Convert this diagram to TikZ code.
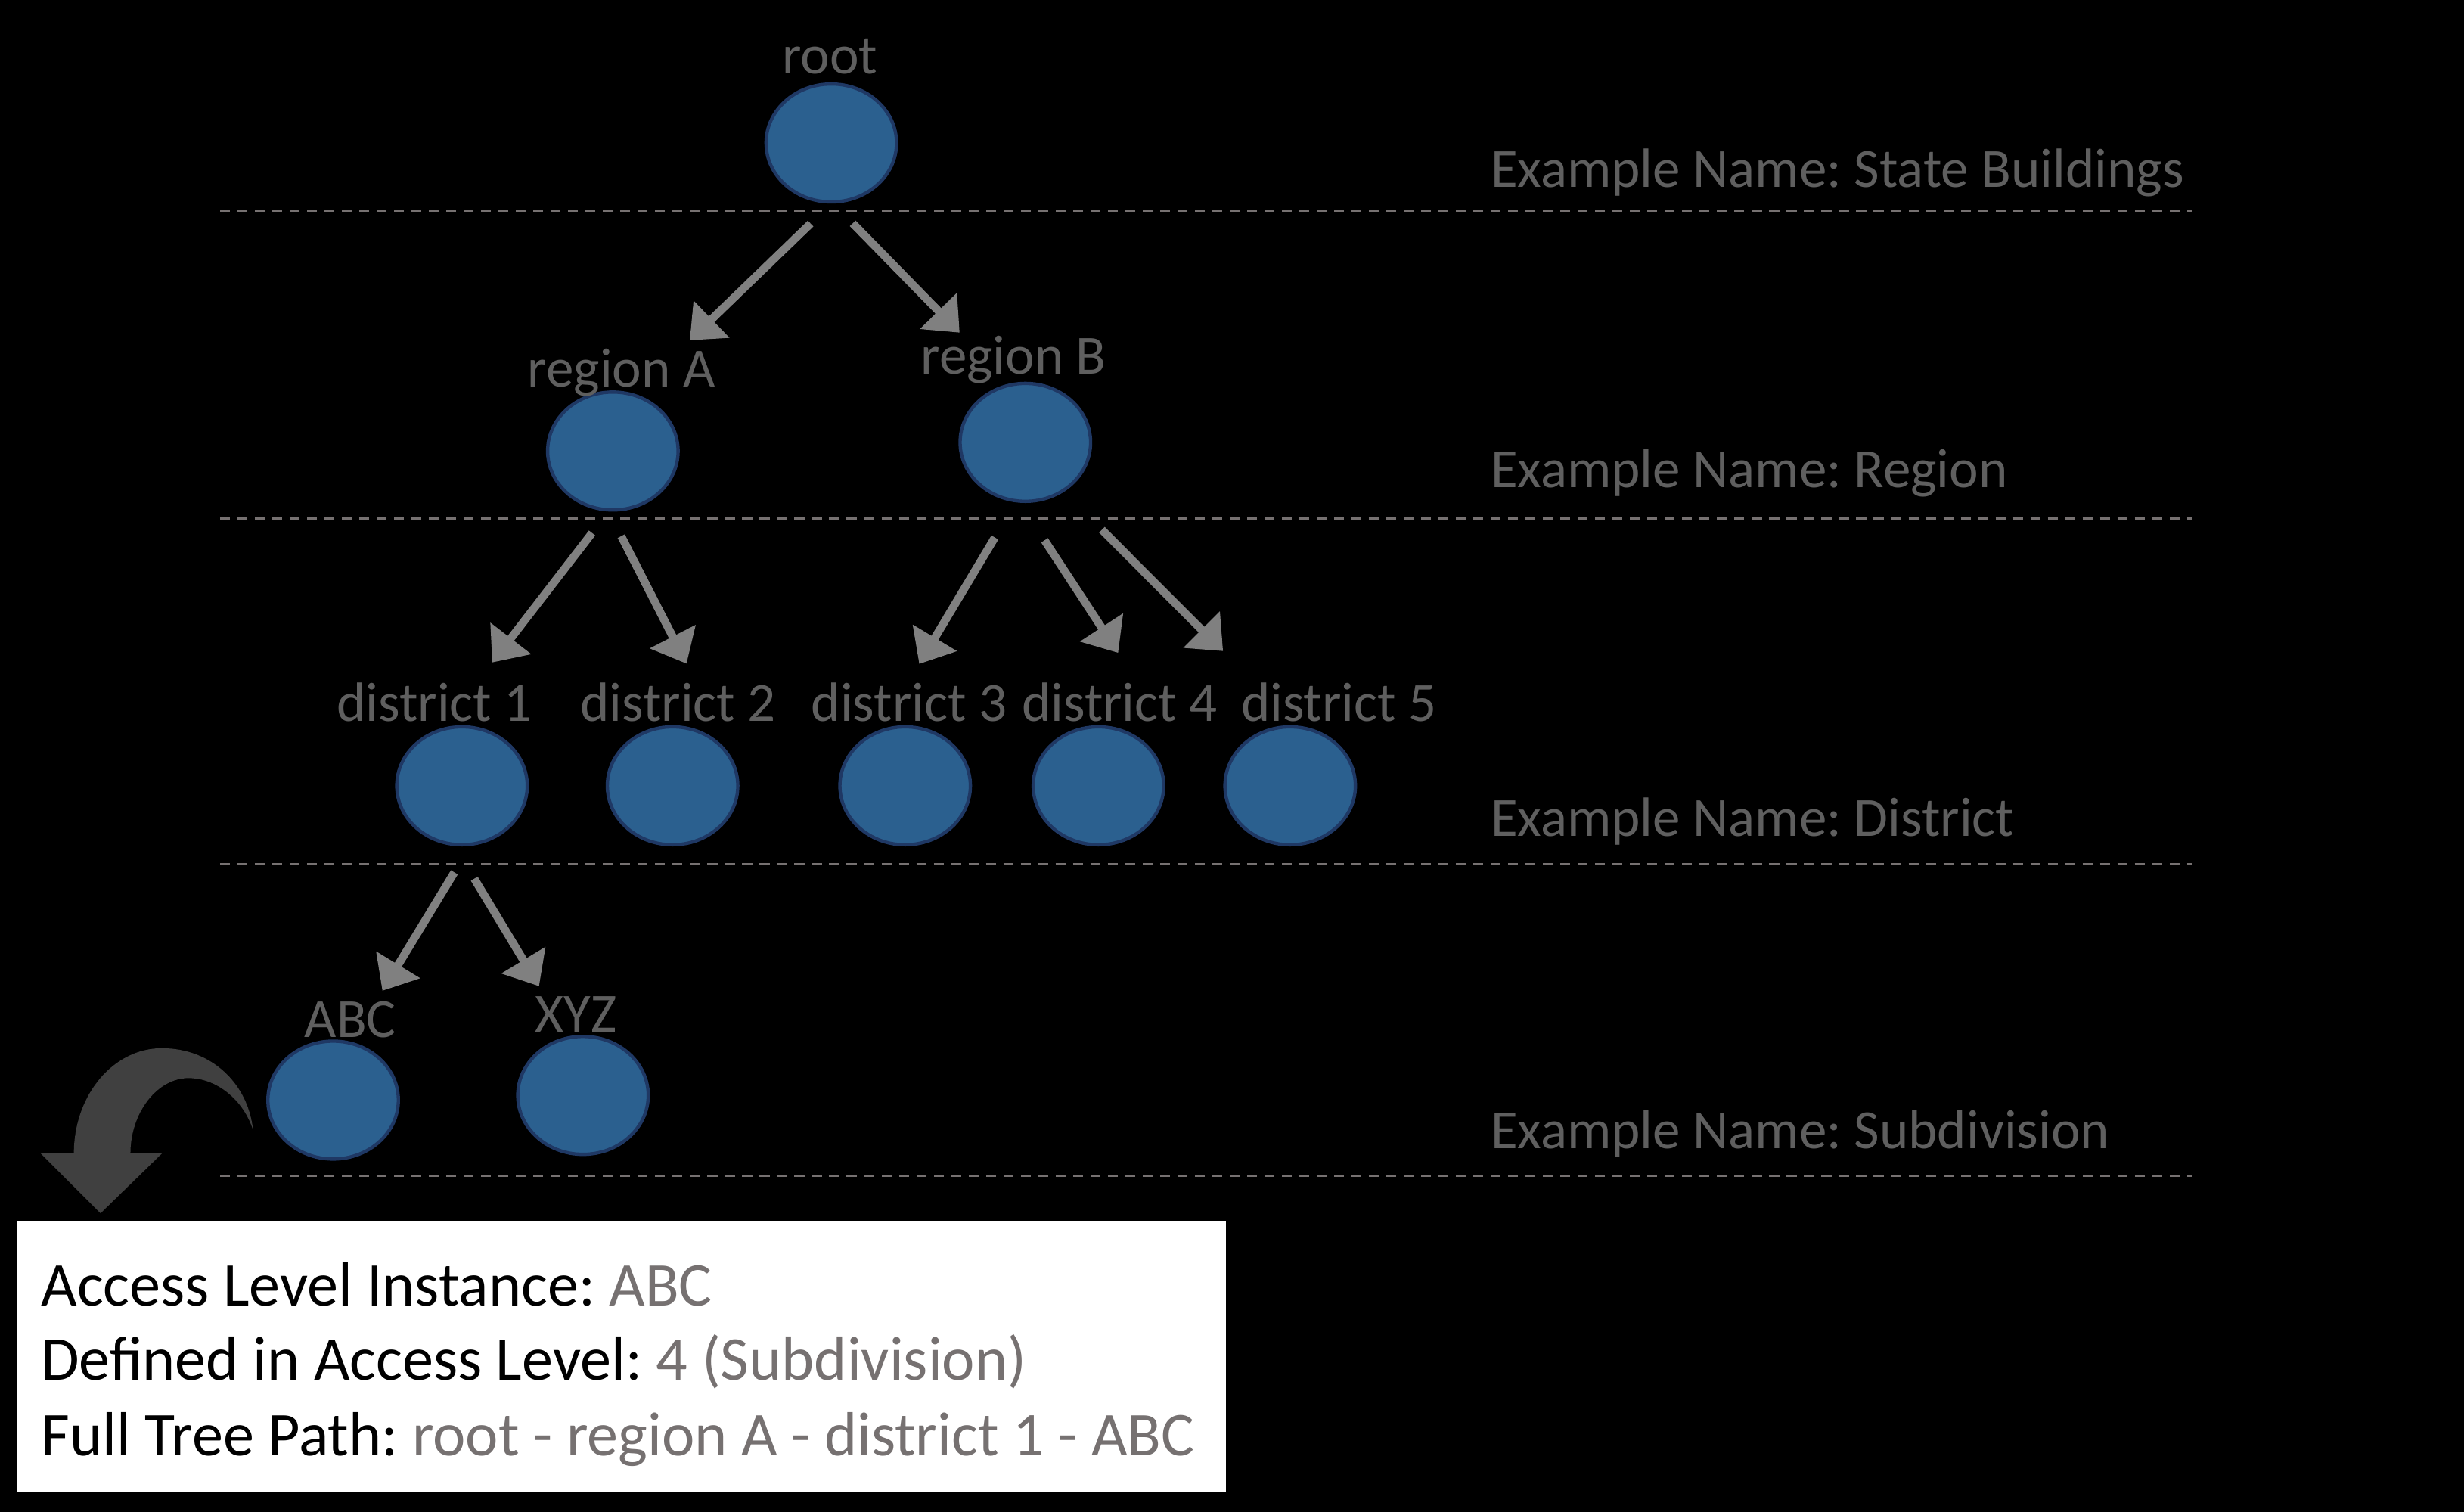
\documentclass[tikz,border=0pt]{standalone}
\usepackage{fontspec}
\setmainfont{Carlito}
\frenchspacing
\usetikzlibrary{arrows.meta,shapes.geometric}

\definecolor{nodeblue}{RGB}{43,96,143}
\definecolor{nodeedge}{RGB}{31,56,100}
\definecolor{labelgray}{RGB}{95,95,95}
\definecolor{valuegray}{RGB}{118,113,113}
\definecolor{linkgray}{RGB}{128,128,128}
\definecolor{bendgray}{RGB}{64,64,64}

\begin{document}
\begin{tikzpicture}[x=0.01cm, y=-0.01cm,
    instance/.style ={ellipse, draw=nodeedge, fill=nodeblue, line width=0.6pt,
                      minimum width=0.83cm, minimum height=0.75cm, inner sep=0pt},
    nodetext/.style ={anchor=base, inner sep=0pt, text height=6.5pt, text depth=0pt,
                      text=labelgray, font=\fontsize{10}{12}\selectfont},
    levelname/.style ={anchor=base west, inner sep=0pt, text=labelgray,
                      font=\fontsize{10}{12}\selectfont},
    divider/.style ={draw=valuegray, line width=0.45pt, dash pattern=on 1.8pt off 1.35pt},
    link/.style ={draw=linkgray, line width=1.45pt, -{Triangle[width=9pt,length=5.5pt]}},
    panel/.style ={rectangle, fill=white, minimum width=7.69cm, minimum height=1.72cm, inner sep=0pt},
    infoline/.style ={anchor=base west, inner sep=0pt, font=\fontsize{11.25}{13.5}\selectfont}]
   \fill[black] (0,0) rectangle (1568,962);
   \useasboundingbox (0,0) rectangle (1568,962);

   % access levels
   \foreach \y in {134,330,550,748}
      \draw[divider] (140,\y) -- (1395,\y);
   \node[levelname] (lvl0) at (948,119) {Example Name: State Buildings};
   \node[levelname] (lvl1) at (948,310) {Example Name: Region};
   \node[levelname] (lvl2) at (948,532) {Example Name: District};
   \node[levelname] (lvl3) at (948,731) {Example Name: Subdivision};

   % tree
   \node[instance] (root)  at (529,91)      {};
   \node[instance] (regA)  at (390,287)     {};
   \node[instance] (regB)  at (652.5,281.5) {};
   \node[instance] (dist1) at (294,500)     {};
   \node[instance] (dist2) at (428,500)     {};
   \node[instance] (dist3) at (576,500)     {};
   \node[instance] (dist4) at (699,500)     {};
   \node[instance] (dist5) at (821,500)     {};
   \node[instance] (abc)   at (212,700)     {};
   \node[instance] (xyz)   at (371,697)     {};

   \node[nodetext] (rootname)  at (528,47)      {root};
   \node[nodetext] (regAname)  at (395.5,246)   {region A};
   \node[nodetext] (regBname)  at (645,238)     {region B};
   \node[nodetext] (dist1name) at (276.5,459)   {district 1};
   \node[nodetext] (dist2name) at (431.5,459)   {district 2};
   \node[nodetext] (dist3name) at (578.5,459)   {district 3};
   \node[nodetext] (dist4name) at (712.5,459)   {district 4};
   \node[nodetext] (dist5name) at (852,459)     {district 5};
   \node[nodetext] (abcname)   at (223,660)     {ABC};
   \node[nodetext] (xyzname)   at (366.5,656.5) {XYZ};

   \draw[link, shorten <=5.2pt, shorten >=2.4pt] (root.-90) to (regAname.18);
   \draw[link, shorten <=5pt, shorten >=1.1pt] (root.-88) to (regBname.159);
   \draw[link, shorten <=4.9pt, shorten >=5pt] (regA.-94) to (dist1name.25);
   \draw[link, shorten <=5pt, shorten >=4.2pt] (regA.-94) to (dist2name.45);
   \draw[link, shorten <=7.4pt, shorten >=4.3pt] (regB.-99) to (dist3name.96);
   \draw[link, shorten <=8.1pt, shorten >=6.8pt] (regB.-95) to (dist4name.45);
   \draw[link, shorten <=9.7pt, shorten >=8.5pt] (regB.-52) to (dist5name.167);
   \draw[link, shorten <=5.6pt, shorten >=2pt] (dist1.-82) to (abcname.36);
   \draw[link, shorten <=6.9pt, shorten >=1.8pt] (dist1.-97) to (xyzname.149);

   % bent arrow down to the box
   \fill[bendgray] (26,734) -- (47,734) .. controls (47,697) and (72,667) .. (103,667)
      .. controls (135,667) and (158,690) .. (161,719)
      .. controls (155,700) and (138,686) .. (120,686)
      .. controls (100,686) and (83,708) .. (83,734) -- (103,734) -- (64,772) -- cycle;

   % info box
   \node[panel] (info) at (395.5,863) {};
   \node[infoline] (instline)  at (25.5,831) {Access Level Instance: \textcolor{valuegray}{ABC}};
   \node[infoline] (levelline) at (25.5,878) {Defined in Access Level: \textcolor{valuegray}{4 (Subdivision)}};
   \node[infoline] (pathline)  at (25.5,926) {Full Tree Path: \textcolor{valuegray}{root - region A - district 1 - ABC}};
\end{tikzpicture}
\end{document}
